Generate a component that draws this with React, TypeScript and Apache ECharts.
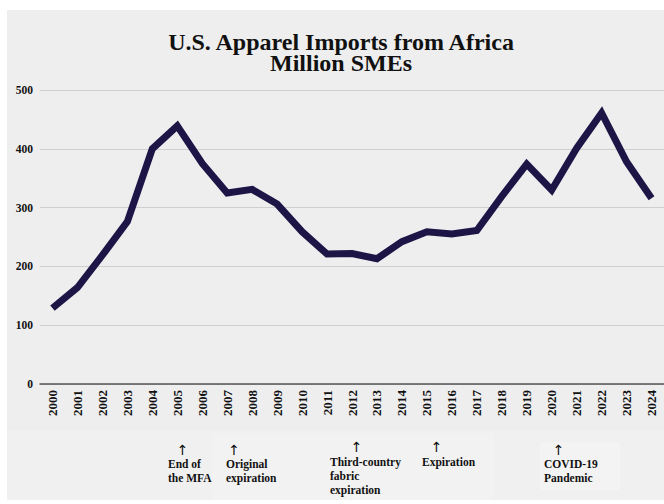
import React, { useEffect, useRef } from "react";
import * as echarts from "echarts";

const years = [
  "2000", "2001", "2002", "2003", "2004", "2005", "2006", "2007", "2008", "2009",
  "2010", "2011", "2012", "2013", "2014", "2015", "2016", "2017", "2018", "2019",
  "2020", "2021", "2022", "2023", "2024",
];
const imports = [
  129, 164, 219, 276, 400, 439, 375, 325, 331, 306,
  259, 221, 222, 213, 242, 259, 255, 261, 319, 374,
  330, 401, 461, 378, 316,
];
const yTicks = { min: 0, max: 500, interval: 100 };
const titleLines = ["U.S. Apparel Imports from Africa", "Million SMEs"];
const notes = [
  { arrowX: 182.7, arrowY: 450, left: 168, top: 457, text: "End of\nthe MFA" },
  { arrowX: 234, arrowY: 450, left: 226, top: 457, text: "Original\nexpiration" },
  { arrowX: 356.7, arrowY: 447, left: 330, top: 455, text: "Third-country\nfabric\nexpiration" },
  { arrowX: 436.7, arrowY: 447, left: 422, top: 455, text: "Expiration" },
  { arrowX: 558.7, arrowY: 450, left: 544, top: 457, text: "COVID-19\nPandemic" },
];

const SERIF = '"Liberation Serif", "Times New Roman", serif';

export default function App() {
  const ref = useRef<HTMLDivElement>(null);
  useEffect(() => {
    if (!ref.current) return;
    const chart = echarts.init(ref.current, null, { renderer: "svg" });
    const graphics: any[] = [
      { type: "rect", z: -100, silent: true, shape: { x: 7, y: 10, width: 657, height: 420 }, style: { fill: "#eeeeee" } },
      { type: "rect", z: -100, silent: true, shape: { x: 7, y: 430, width: 657, height: 70 }, style: { fill: "#f0f0f0" } },
      { type: "rect", z: -99, silent: true, shape: { x: 212, y: 433, width: 282, height: 67 }, style: { fill: "#f2f2f2" } },
      { type: "rect", z: -99, silent: true, shape: { x: 540, y: 442, width: 80, height: 48 }, style: { fill: "#f3f3f3" } },
      {
        type: "text", x: 341, y: 32,
        style: {
          text: titleLines.join("\n"),
          align: "center",
          verticalAlign: "top",
          lineHeight: 20.5,
          font: `bold 24px ${SERIF}`,
          fill: "#111",
        },
      },
    ];
    notes.forEach((n) => {
      graphics.push({
        type: "text", x: n.arrowX, y: n.arrowY,
        style: { text: "↑", align: "center", verticalAlign: "middle", font: `14px "DejaVu Sans", sans-serif`, fill: "#111" },
      });
      graphics.push({
        type: "text", x: n.left, y: n.top,
        style: { text: n.text, align: "left", verticalAlign: "top", font: `bold 11.5px ${SERIF}`, lineHeight: 14, fill: "#111" },
      });
    });

    chart.setOption({
      animation: false,
      backgroundColor: "transparent",
      grid: { left: 40, top: 90, width: 627.5, height: 294, containLabel: false },
      xAxis: {
        type: "category",
        data: years,
        boundaryGap: true,
        axisLine: { show: true, lineStyle: { color: "#555", width: 1.5 } },
        axisTick: { show: false },
        axisLabel: {
          rotate: 90,
          interval: 0,
          margin: 6,
          fontFamily: SERIF,
          fontWeight: "bold",
          fontSize: 13,
          color: "#111",
        },
        splitLine: { show: false },
      },
      yAxis: {
        type: "value",
        min: yTicks.min,
        max: yTicks.max,
        interval: yTicks.interval,
        axisLine: { show: false },
        axisTick: { show: false },
        axisLabel: { margin: 7, fontFamily: SERIF, fontWeight: "bold", fontSize: 11.5, color: "#111" },
        splitLine: { show: true, lineStyle: { color: "#cfcfcf", width: 1 } },
      },
      series: [
        {
          type: "line",
          data: imports,
          symbol: "none",
          lineStyle: { color: "#1e1547", width: 7, join: "miter" },
          z: 3,
        },
      ],
      graphic: graphics,
    });
    return () => chart.dispose();
  }, []);
  return (
    <div
      ref={ref}
      style={{ position: "absolute", left: 0, top: 0, width: 664, height: 504, background: "#ffffff" }}
    />
  );
}
